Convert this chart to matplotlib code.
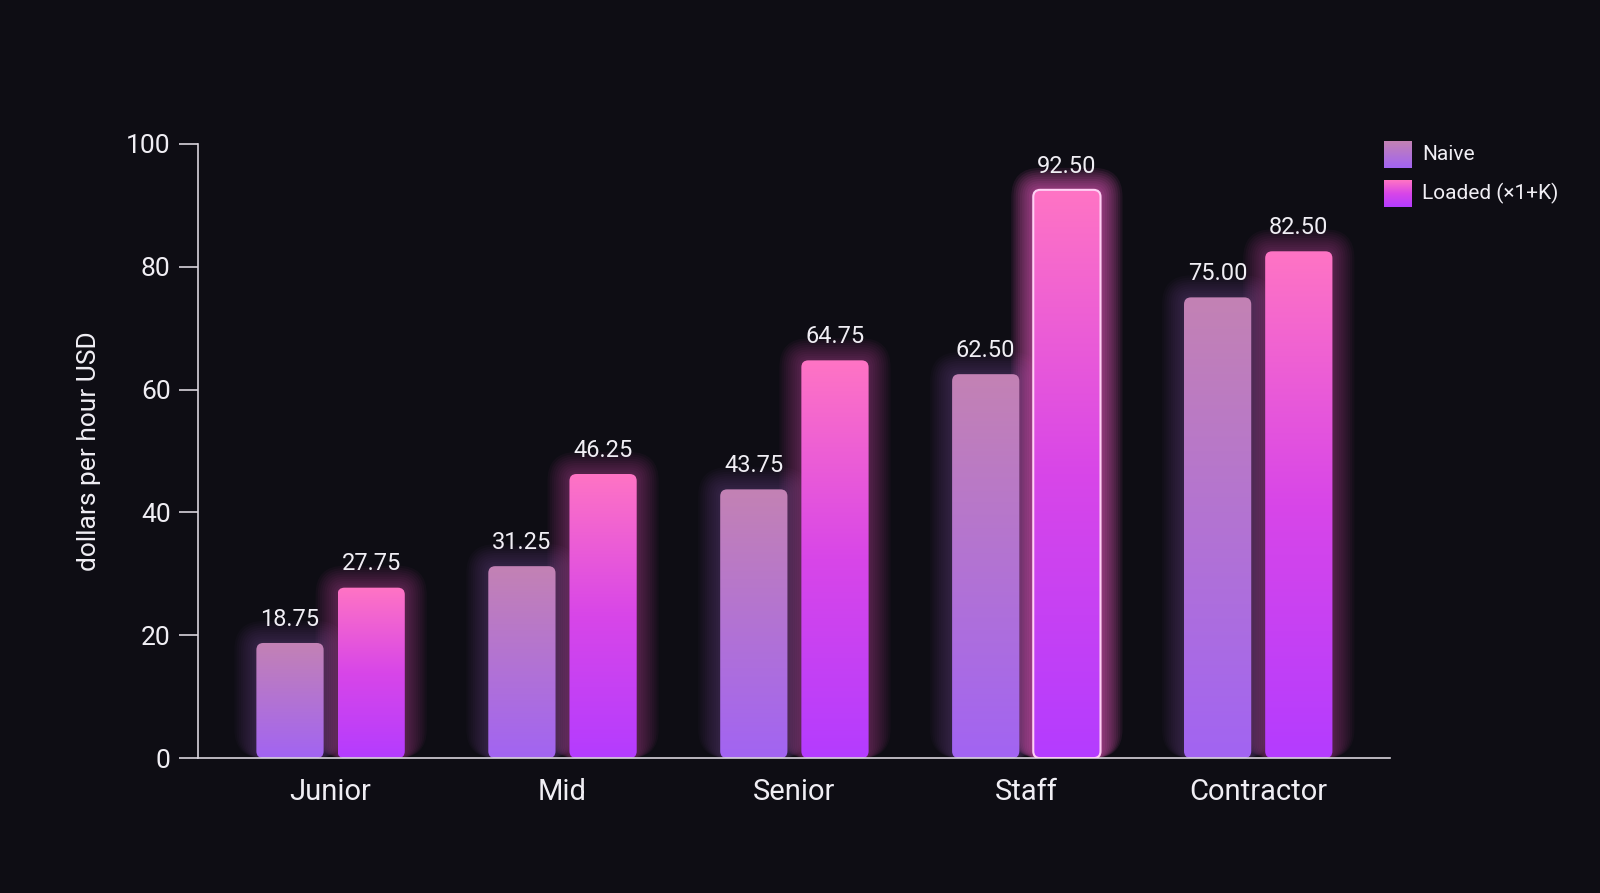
import numpy as np
import matplotlib.pyplot as plt
from matplotlib.patches import FancyBboxPatch
from matplotlib.colors import LinearSegmentedColormap

categories = ["Junior", "Mid", "Senior", "Staff", "Contractor"]
naive = [18.75, 31.25, 43.75, 62.50, 75.00]
loaded = [27.75, 46.25, 64.75, 92.50, 82.50]
series_names = ["Naive", "Loaded (×1+K)"]

BG = "#0e0d14"
plt.rcParams['font.family'] = ['Roboto', 'DejaVu Sans']

fig = plt.figure(figsize=(16, 8.93), dpi=100, facecolor=BG)
ax = fig.add_axes([0.124, 0.151, 0.745, 0.688], facecolor=BG)
ax.set_xlim(-0.57, 4.57)
ax.set_ylim(0, 100)

naive_cmap = LinearSegmentedColormap.from_list("naive", ["#a264f2", "#c382b4"])
loaded_cmap = LinearSegmentedColormap.from_list("loaded", ["#b43cff", "#d846e8", "#ff74c4"])

# aspect so rounded corners look round on screen
fig.canvas.draw()
p0 = ax.transData.transform((0, 0))
p1 = ax.transData.transform((1, 1))
px_x, px_y = p1[0] - p0[0], p1[1] - p0[1]
aspect = px_x / px_y
r = 7 / px_x

width = 0.29
offset = 0.175


def draw_bar(x, h, cmap, glow_color, glow=1.0, edge=None):
    # glow halo
    for k in range(10, 0, -1):
        g = k * 2.2 / px_x
        halo = FancyBboxPatch((x - width / 2 - g, 0), width + 2 * g, h + g * aspect,
                              boxstyle=f"round,pad=0,rounding_size={r + g}",
                              mutation_aspect=aspect, facecolor=glow_color,
                              edgecolor="none", alpha=0.035 * glow, zorder=1)
        ax.add_patch(halo)
    box = FancyBboxPatch((x - width / 2, 0), width, h,
                         boxstyle=f"round,pad=0,rounding_size={r}",
                         mutation_aspect=aspect, facecolor="none",
                         edgecolor=edge if edge else "none", lw=1.5, zorder=3)
    ax.add_patch(box)
    grad = np.linspace(0, 1, 256).reshape(-1, 1)
    im = ax.imshow(grad, cmap=cmap, origin="lower", aspect="auto",
                   extent=(x - width / 2, x + width / 2, 0, h), zorder=2)
    im.set_clip_path(box)


xs = np.arange(len(categories))
for i in xs:
    draw_bar(i - offset, naive[i], naive_cmap, "#b070e0", 0.8)
    strong = categories[i] == "Staff"
    draw_bar(i + offset, loaded[i], loaded_cmap, "#ff60d0",
             2.2 if strong else 1.0, "#ffd0f4" if strong else None)
    ax.text(i - offset, naive[i] + 2, f"{naive[i]:.2f}", ha="center", va="bottom",
            color="#f0eef4", fontsize=17, zorder=4)
    ax.text(i + offset, loaded[i] + 2, f"{loaded[i]:.2f}", ha="center", va="bottom",
            color="#f0eef4", fontsize=17, zorder=4)

for s in ["top", "right"]:
    ax.spines[s].set_visible(False)
for s in ["left", "bottom"]:
    ax.spines[s].set_color("#d8d4dc")
    ax.spines[s].set_linewidth(1.2)
ax.set_xticks(xs)
ax.set_xticklabels(categories)
ax.set_yticks([0, 20, 40, 60, 80, 100])
ax.tick_params(axis="x", length=0, pad=14, labelsize=21, colors="#f0eef4")
ax.tick_params(axis="y", length=14, width=1.2, color="#d8d4dc", pad=6,
               labelsize=19, labelcolor="#f0eef4")
ax.set_ylabel("dollars per hour USD", color="#f0eef4", fontsize=19, labelpad=18)

# legend
for j, (name, cmap) in enumerate(zip(series_names, [naive_cmap, loaded_cmap])):
    y = 0.827 - j * 0.044
    lax = fig.add_axes([0.865, y - 0.015, 0.017, 0.03])
    lax.imshow(np.linspace(0, 1, 64).reshape(-1, 1), cmap=cmap, origin="lower",
               aspect="auto")
    lax.axis("off")
    fig.text(0.889, y, name, color="#f0eef4", fontsize=15, va="center")

fig.savefig("out.png", facecolor=BG)
